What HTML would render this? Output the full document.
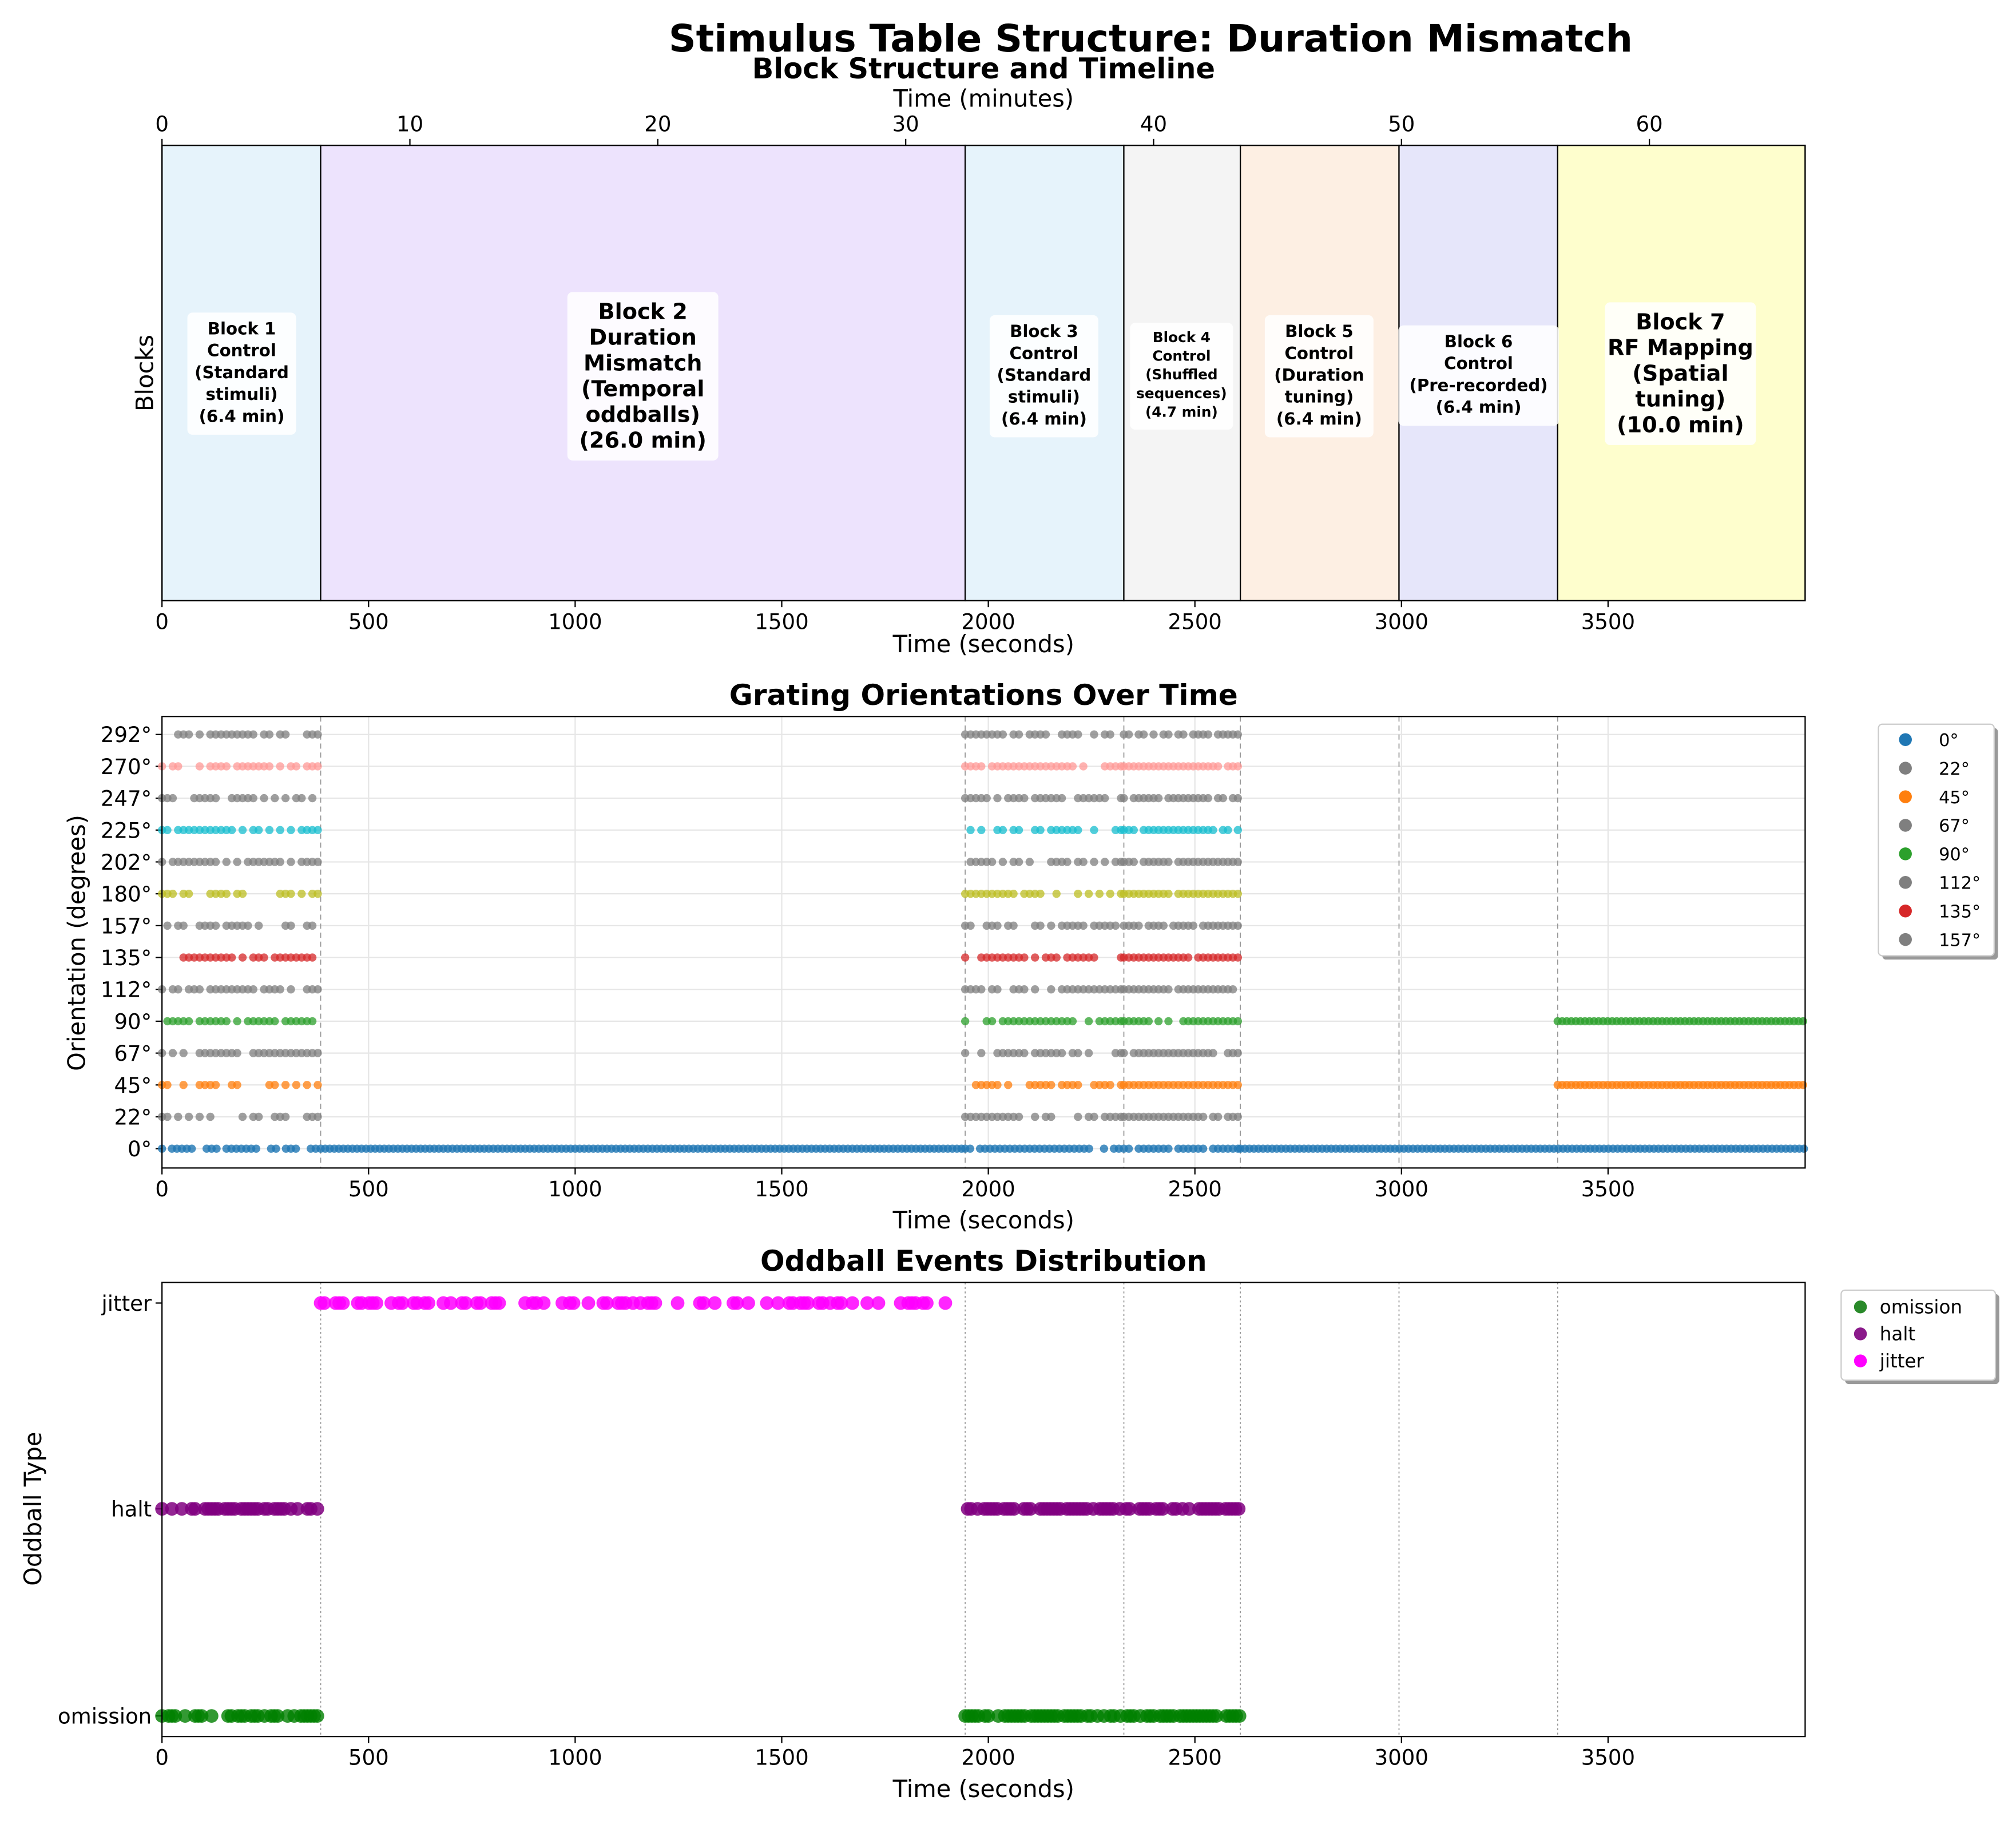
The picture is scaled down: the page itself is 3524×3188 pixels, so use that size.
<!DOCTYPE html>
<html><head><meta charset="utf-8"><style>
html,body{margin:0;padding:0;background:#fff;}
svg{display:block;font-family:"DejaVu Sans","Liberation Sans",sans-serif;}
</style></head><body>
<svg id="s" width="3524" height="3188" viewBox="0 0 1568 1418" preserveAspectRatio="none" xmlns="http://www.w3.org/2000/svg">
<rect width="1568" height="1418" fill="#fff"/>
<text x="895" y="40" font-size="29.5" font-weight="bold" text-anchor="middle">Stimulus Table Structure: Duration Mismatch</text>
<text x="765" y="61" font-size="22" font-weight="bold" text-anchor="middle">Block Structure and Timeline</text>
<text x="765" y="83" font-size="18.5" text-anchor="middle">Time (minutes)</text>
<g id="p1"></g>
<text transform="translate(119,290) rotate(-90)" font-size="18.5" text-anchor="middle">Blocks</text>
<text x="765" y="507" font-size="18.5" text-anchor="middle">Time (seconds)</text>
<text x="765" y="548" font-size="22.3" font-weight="bold" text-anchor="middle">Grating Orientations Over Time</text>
<g id="p2"></g>
<text transform="translate(66,733) rotate(-90)" font-size="18.5" text-anchor="middle">Orientation (degrees)</text>
<text x="765" y="955" font-size="18.5" text-anchor="middle">Time (seconds)</text>
<text x="765" y="988" font-size="22.3" font-weight="bold" text-anchor="middle">Oddball Events Distribution</text>
<g id="p3"></g>
<text transform="translate(32,1173) rotate(-90)" font-size="18.5" text-anchor="middle">Oddball Type</text>
<text x="765" y="1397" font-size="18.5" text-anchor="middle">Time (seconds)</text>
</svg>
<script>
var NS="http://www.w3.org/2000/svg";
function el(p,t,a,txt){var e=document.createElementNS(NS,t);for(var k in a)e.setAttribute(k,a[k]);if(txt!=null)e.textContent=txt;document.getElementById(p).appendChild(e);return e;}
var X0=126,X1=1404,TM=3977;function X(t){return X0+(X1-X0)*t/TM;}
var seed=7;function r(){seed=(seed*16807)%2147483647;return seed/2147483647;}
var B=[0,384,1944,2328,2610,2994,3378,TM];
var FS=16.5;
var cols=["#e6f3fb","#ede3fd","#e6f3fb","#f4f4f4","#fdefe3","#e6e6fa","#fefecd"];
for(var i=0;i<7;i++){el("p1","rect",{x:X(B[i]),y:113,width:X(B[i+1])-X(B[i]),height:354,fill:cols[i],stroke:"#000","stroke-width":1});}
el("p1","rect",{x:126,y:113,width:1278,height:354,fill:"none",stroke:"#000","stroke-width":1});
for(var m=0;m<=60;m+=10){var x=X(m*60);el("p1","line",{x1:x,y1:113,x2:x,y2:108,stroke:"#000"});el("p1","text",{x:x,y:102,"font-size":FS,"text-anchor":"middle"},String(m));}
for(var s=0;s<=3500;s+=500){var x=X(s);el("p1","line",{x1:x,y1:467,x2:x,y2:472,stroke:"#000"});el("p1","text",{x:x,y:489,"font-size":FS,"text-anchor":"middle"},String(s));}
var labs=[[188,["Block 1","Control","(Standard","stimuli)","(6.4 min)"],13,17,260],
[500,["Block 2","Duration","Mismatch","(Temporal","oddballs)","(26.0 min)"],17,20,248],
[812,["Block 3","Control","(Standard","stimuli)","(6.4 min)"],13,17,262],
[919,["Block 4","Control","(Shuffled","sequences)","(4.7 min)"],11,14.5,266],
[1026,["Block 5","Control","(Duration","tuning)","(6.4 min)"],13,17,262],
[1150,["Block 6","Control","(Pre-recorded)","(6.4 min)"],13,17,270],
[1307,["Block 7","RF Mapping","(Spatial","tuning)","(10.0 min)"],17,20,256]];
labs.forEach(function(L){var n=L[1].length,fs=L[2],lh=L[3],y0=L[4];var w=0;L[1].forEach(function(t){w=Math.max(w,t.length*fs*0.62);});
var top=y0-fs,h=(n-1)*lh+fs+10;el("p1","rect",{x:L[0]-w/2-6,y:top-4,width:w+12,height:h+4,rx:4,fill:"#fff","fill-opacity":0.85});
L[1].forEach(function(t,j){el("p1","text",{x:L[0],y:y0+j*lh,"font-size":fs,"font-weight":"bold","text-anchor":"middle"},t);});});
var Y0=893,dy=24.77;
var angs=["0°","22°","45°","67°","90°","112°","135°","157°","180°","202°","225°","247°","270°","292°"];
var oc=["#1f77b4","#7f7f7f","#ff7f0e","#7f7f7f","#2ca02c","#7f7f7f","#d62728","#7f7f7f","#bcbd22","#7f7f7f","#17becf","#7f7f7f","#ff9896","#7f7f7f"];
for(var s=0;s<=3500;s+=500){var x=X(s);el("p2","line",{x1:x,y1:557,x2:x,y2:908,stroke:"#e6e6e6"});el("p2","line",{x1:x,y1:908,x2:x,y2:913,stroke:"#000"});el("p2","text",{x:x,y:930,"font-size":FS,"text-anchor":"middle"},String(s));}
for(var i=0;i<14;i++){var y=Y0-i*dy;el("p2","line",{x1:126,y1:y,x2:1404,y2:y,stroke:"#e6e6e6"});el("p2","line",{x1:121,y1:y,x2:126,y2:y,stroke:"#000"});el("p2","text",{x:118,y:y+6,"font-size":FS,"text-anchor":"end"},angs[i]);}
for(var k=1;k<7;k++){var x=X(B[k]);el("p2","line",{x1:x,y1:557,x2:x,y2:908,stroke:"#999","stroke-dasharray":"4,3","stroke-width":0.8});}
function dots(p,y,c,a,b,step,prob,rad,op){for(var t=a;t<=b;t+=step){if(r()<prob)el(p,"circle",{cx:X(t),cy:y,r:rad,fill:c,"fill-opacity":op});}}
for(var i=0;i<14;i++){var y=Y0-i*dy;
 if(i==0){dots("p2",y,oc[0],0,384,12,0.75,3.2,0.8);dots("p2",y,oc[0],384,1944,11,1,3.2,0.8);dots("p2",y,oc[0],1944,2610,12,0.85,3.2,0.8);dots("p2",y,oc[0],2610,TM,11,1,3.2,0.8);}
 else{dots("p2",y,oc[i],0,384,13,0.7,3.2,0.75);dots("p2",y,oc[i],1944,2328,13,0.7,3.2,0.75);dots("p2",y,oc[i],2328,2610,12,0.9,3.2,0.75);
  if(i==2||i==4)dots("p2",y,oc[i],3378,TM,11,1,3.2,0.8);}}
el("p2","rect",{x:126,y:557,width:1278,height:351,fill:"none",stroke:"#000"});
el("p2","rect",{x:1464,y:566,width:90,height:180,rx:3,fill:"#999"});
el("p2","rect",{x:1461,y:563,width:90,height:180,rx:3,fill:"#fff",stroke:"#ccc"});
for(var i=0;i<8;i++){var y=575+i*22.2;el("p2","circle",{cx:1482,cy:y,r:5,fill:oc[i]});el("p2","text",{x:1508,y:y+5,"font-size":13.5},angs[i]);}
var yj=1013,yh=1173,yo=1334;
for(var s=0;s<=3500;s+=500){var x=X(s);el("p3","line",{x1:x,y1:1350,x2:x,y2:1355,stroke:"#000"});el("p3","text",{x:x,y:1372,"font-size":FS,"text-anchor":"middle"},String(s));}
[["jitter",yj],["halt",yh],["omission",yo]].forEach(function(a){el("p3","line",{x1:121,y1:a[1],x2:126,y2:a[1],stroke:"#000"});el("p3","text",{x:118,y:a[1]+6,"font-size":FS,"text-anchor":"end"},a[0]);});
for(var k=1;k<7;k++){var x=X(B[k]);el("p3","line",{x1:x,y1:997,x2:x,y2:1350,stroke:"#999","stroke-dasharray":"1.5,2","stroke-width":0.8});}
dots("p3",yj,"#ff00ff",384,1920,9,0.5,5.3,0.85);
dots("p3",yh,"#800080",0,384,8,0.7,5.3,0.85);dots("p3",yh,"#800080",1950,2610,8,0.75,5.3,0.85);
dots("p3",yo,"#008000",0,384,8,0.7,5.3,0.8);dots("p3",yo,"#008000",1944,2610,8,0.8,5.3,0.8);
el("p3","rect",{x:126,y:997,width:1278,height:353,fill:"none",stroke:"#000"});
el("p3","rect",{x:1435,y:1006,width:120,height:70,rx:3,fill:"#999"});
el("p3","rect",{x:1432,y:1003,width:120,height:70,rx:3,fill:"#fff",stroke:"#ccc"});
[["omission","#2a8a2a"],["halt","#8b1a8b"],["jitter","#ff00ff"]].forEach(function(a,i){var y=1016+i*21;el("p3","circle",{cx:1447,cy:y,r:5,fill:a[1]});el("p3","text",{x:1462,y:y+5,"font-size":14.5},a[0]);});
</script>
</body></html>
